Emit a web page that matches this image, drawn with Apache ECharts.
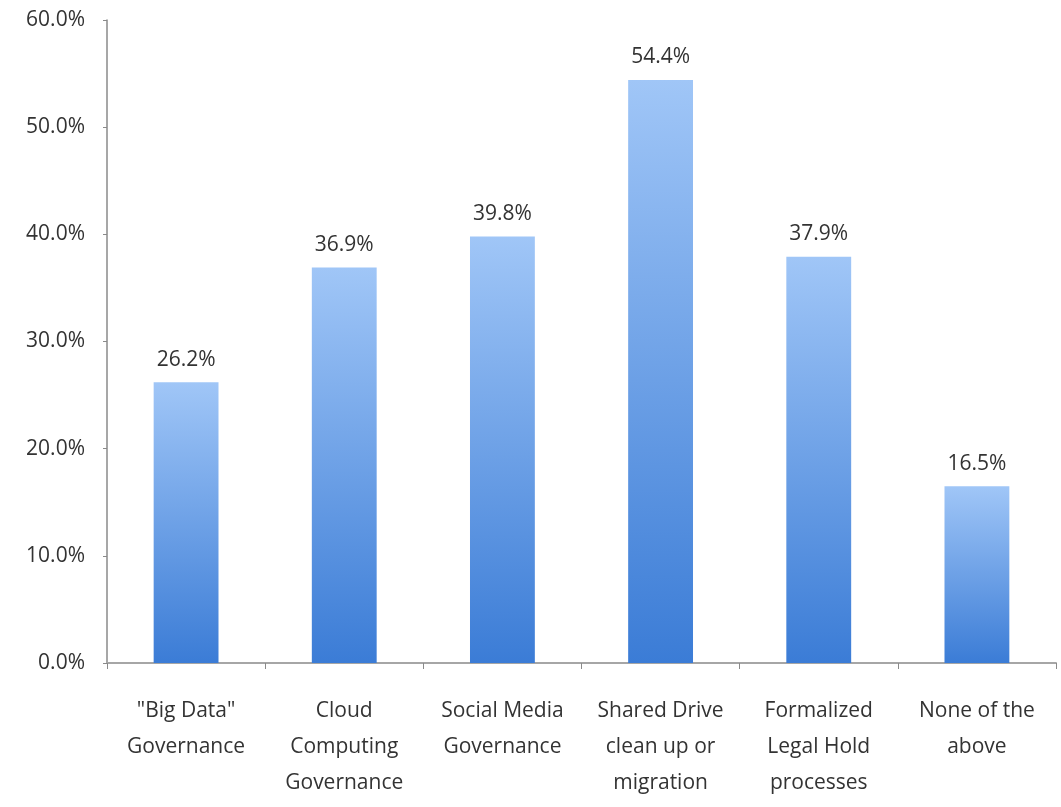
<!DOCTYPE html>
<html>
<head>
<meta charset="utf-8">
<script src="https://cdn.jsdelivr.net/npm/echarts@6/dist/echarts.min.js"></script>
<style>
  html, body { margin: 0; padding: 0; background: #fff; }
  #chart { width: 1061px; height: 807px; }
</style>
</head>
<body>
<div id="chart"></div>
<script>
// Survey categories and share of respondents (%)
const categories = [
  '"Big Data"\nGovernance',
  'Cloud\nComputing\nGovernance',
  'Social Media\nGovernance',
  'Shared Drive\nclean up or\nmigration',
  'Formalized\nLegal Hold\nprocesses',
  'None of the\nabove'
];
const values = [26.2, 36.9, 39.8, 54.4, 37.9, 16.5];
const yTicks = { min: 0, max: 60, step: 10 };

const FONT = '"Liberation Sans Narrow", "Open Sans", Lato, sans-serif';
const chart = echarts.init(document.getElementById('chart'));

chart.setOption({
  animation: false,
  grid: { left: 107, right: 5, top: 20, bottom: 144, containLabel: false },
  xAxis: {
    type: 'category',
    data: categories,
    axisLine: { lineStyle: { color: '#a6a6a6', width: 2 } },
    axisTick: { show: true, alignWithLabel: false, length: 6, lineStyle: { color: '#8a8a8a' } },
    axisLabel: {
      color: '#333', fontFamily: FONT, fontSize: 21, lineHeight: 36,
      margin: 30, interval: 0
    }
  },
  yAxis: {
    type: 'value',
    min: yTicks.min, max: yTicks.max, interval: yTicks.step,
    splitLine: { show: false },
    axisLine: { show: true, lineStyle: { color: '#8a8a8a', width: 1.5 } },
    axisTick: { show: true, length: 4, lineStyle: { color: '#8a8a8a' } },
    axisLabel: {
      color: '#333', fontFamily: FONT, fontSize: 21, margin: 22,
      formatter: v => v.toFixed(1) + '%'
    }
  },
  series: [{
    type: 'bar',
    data: values,
    barWidth: '41%',
    itemStyle: {
      color: new echarts.graphic.LinearGradient(0, 0, 0, 1, [
        { offset: 0, color: '#a0c6f7' },
        { offset: 1, color: '#3b7cd6' }
      ])
    },
    label: {
      show: true, position: 'top', distance: 12,
      color: '#333', fontFamily: FONT, fontSize: 21,
      formatter: p => p.value.toFixed(1) + '%'
    }
  }]
});
</script>
</body>
</html>
